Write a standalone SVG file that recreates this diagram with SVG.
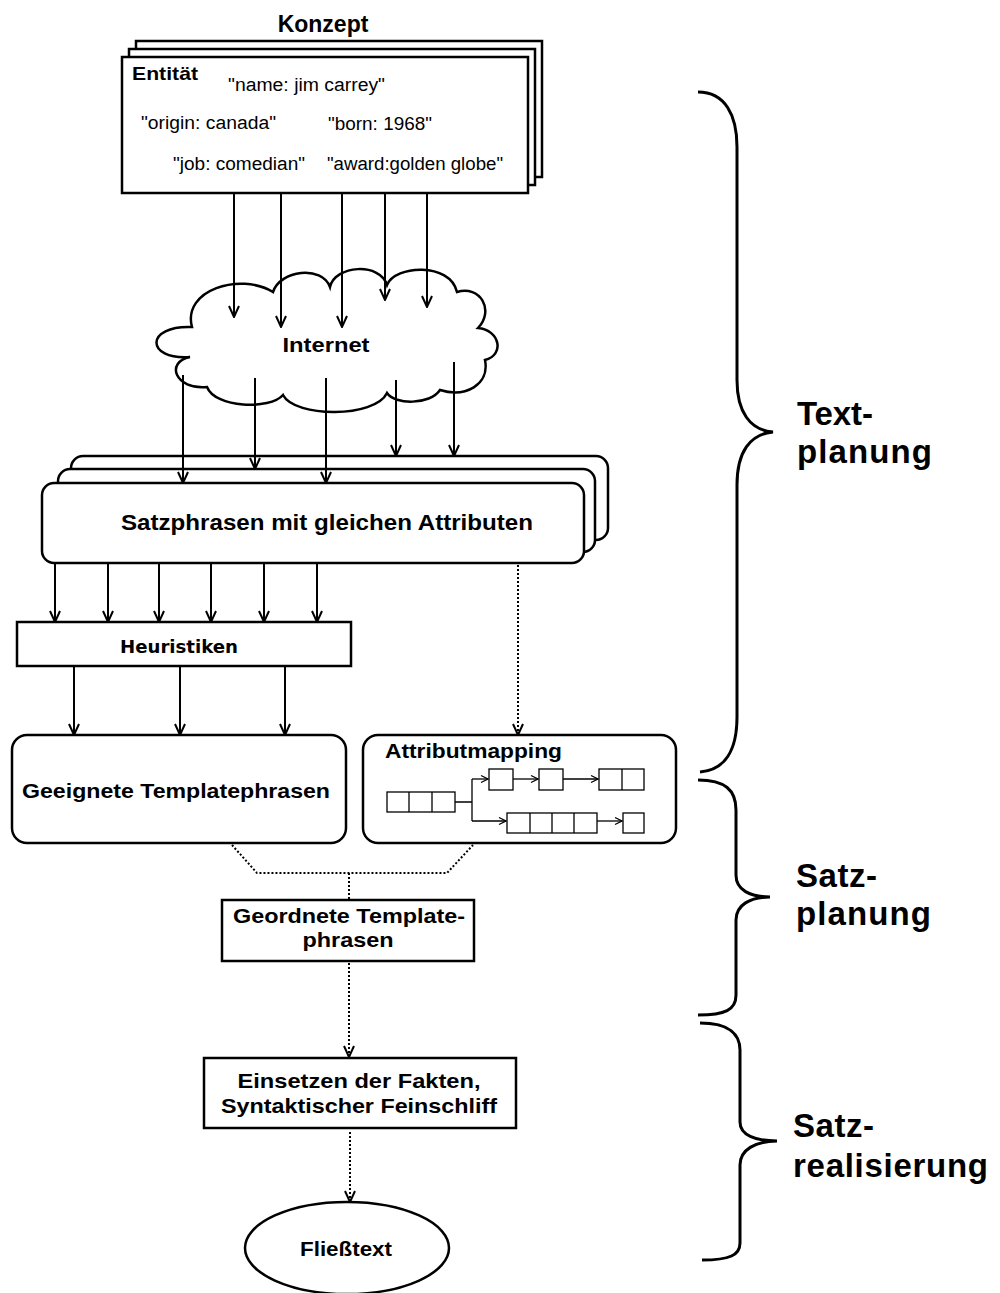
<svg xmlns="http://www.w3.org/2000/svg" width="1000" height="1293" viewBox="0 0 1000 1293">
<style>
.b{fill:#fff;stroke:#000;stroke-width:2.5}
.t{font-family:"Liberation Sans",Arial,sans-serif;fill:#000}
.bd{font-weight:bold}
.ln{fill:none;stroke:#000;stroke-width:2}
.dt{fill:none;stroke:#000;stroke-width:2;stroke-dasharray:2 2}
.br{fill:none;stroke:#000;stroke-width:3}
.sm{fill:#fff;stroke:#000;stroke-width:1.3}
.sl{fill:none;stroke:#000;stroke-width:1.3}
</style>
<defs>
<marker id="ah" markerWidth="14" markerHeight="14" viewBox="-13 -7 14 14" refX="0" refY="0" orient="auto" markerUnits="userSpaceOnUse">
<path d="M -11 -5 L 0 0 L -11 5" fill="none" stroke="#000" stroke-width="2"/>
</marker>
<marker id="sa" markerWidth="10" markerHeight="10" viewBox="-9 -5 10 10" refX="0" refY="0" orient="auto" markerUnits="userSpaceOnUse">
<path d="M -7 -3.5 L 0 0 L -7 3.5" fill="none" stroke="#000" stroke-width="1.3"/>
</marker>
</defs>
<rect width="1000" height="1293" fill="#fff"/>

<g id="konzept">
<text class="t bd" x="323" y="32" font-size="23" text-anchor="middle">Konzept</text>
<rect class="b" x="136" y="41" width="406" height="136"/>
<rect class="b" x="129" y="49" width="406" height="136"/>
<rect class="b" x="122" y="57" width="406" height="136"/>
<text class="t bd" x="132" y="80" font-size="19" textLength="66" lengthAdjust="spacingAndGlyphs">Entität</text>
<text class="t" x="228" y="91" font-size="18" textLength="157" lengthAdjust="spacingAndGlyphs">"name: jim carrey"</text>
<text class="t" x="141" y="129" font-size="18" textLength="135" lengthAdjust="spacingAndGlyphs">"origin: canada"</text>
<text class="t" x="328" y="130" font-size="18" textLength="104" lengthAdjust="spacingAndGlyphs">"born: 1968"</text>
<text class="t" x="173" y="170" font-size="18" textLength="132" lengthAdjust="spacingAndGlyphs">"job: comedian"</text>
<text class="t" x="327" y="170" font-size="18" textLength="176" lengthAdjust="spacingAndGlyphs">"award:golden globe"</text>
</g>

<g id="internet">
<path class="b" d="M 192 327 C 182 290 240 272 273 292 C 280 270 322 265 330 287 C 335 265 380 262 387 285 C 395 265 450 262 457 292 C 480 285 495 310 478 328 C 500 330 505 355 485 360 C 490 385 465 398 440 390 C 430 405 395 405 387 393 C 375 418 295 418 283 395 C 270 410 215 408 207 387 C 175 390 165 362 190 357 C 145 360 145 325 192 327 Z"/>
<text class="t bd" x="326" y="352" font-size="20" text-anchor="middle" textLength="87" lengthAdjust="spacingAndGlyphs">Internet</text>
</g>

<g id="satzphrasen">
<rect class="b" x="71" y="456" width="537" height="84" rx="12"/>
<rect class="b" x="58" y="469" width="537" height="83" rx="12"/>
<rect class="b" x="42" y="483" width="542" height="80" rx="12"/>
<text class="t bd" x="327" y="530" font-size="22" text-anchor="middle" textLength="412" lengthAdjust="spacingAndGlyphs">Satzphrasen mit gleichen Attributen</text>
</g>

<g id="heuristiken">
<rect class="b" x="17" y="622" width="334" height="44"/>
<text x="179" y="653" font-family="DejaVu Sans" font-weight="bold" font-size="18" text-anchor="middle" textLength="118" lengthAdjust="spacingAndGlyphs">Heuristiken</text>
</g>

<g id="geeignete">
<rect class="b" x="12" y="735" width="334" height="108" rx="15"/>
<text class="t bd" x="176" y="798" font-size="21" text-anchor="middle" textLength="308" lengthAdjust="spacingAndGlyphs">Geeignete Templatephrasen</text>
</g>

<g id="attributmapping">
<rect class="b" x="363" y="735" width="313" height="108" rx="15"/>
<text class="t bd" x="385" y="758" font-size="20" textLength="177" lengthAdjust="spacingAndGlyphs">Attributmapping</text>
<rect class="sm" x="387" y="792" width="68" height="20"/>
<path class="sl" d="M 409 792 V 812 M 432 792 V 812"/>
<rect class="sm" x="489" y="769" width="24" height="21"/>
<rect class="sm" x="539" y="769" width="24" height="21"/>
<rect class="sm" x="599" y="769" width="45" height="21"/>
<path class="sl" d="M 622 769 V 790"/>
<rect class="sm" x="507" y="813" width="90" height="20"/>
<path class="sl" d="M 530 813 V 833 M 552 813 V 833 M 574 813 V 833"/>
<rect class="sm" x="623" y="813" width="21" height="20"/>
<path class="sl" d="M 455 802 H 472 M 472 779 V 821"/>
<path class="sl" d="M 472 779 H 488" marker-end="url(#sa)"/>
<path class="sl" d="M 513 779 H 538" marker-end="url(#sa)"/>
<path class="sl" d="M 563 779 H 598" marker-end="url(#sa)"/>
<path class="sl" d="M 472 821 H 506" marker-end="url(#sa)"/>
<path class="sl" d="M 597 821 H 622" marker-end="url(#sa)"/>
</g>

<g id="geordnete">
<rect class="b" x="222" y="900" width="252" height="61"/>
<text class="t bd" x="349" y="923" font-size="21" text-anchor="middle" textLength="232" lengthAdjust="spacingAndGlyphs">Geordnete Template-</text>
<text class="t bd" x="348" y="947" font-size="21" text-anchor="middle" textLength="91" lengthAdjust="spacingAndGlyphs">phrasen</text>
</g>

<g id="einsetzen">
<rect class="b" x="204" y="1058" width="312" height="70"/>
<text class="t bd" x="359" y="1088" font-size="21" text-anchor="middle" textLength="243" lengthAdjust="spacingAndGlyphs">Einsetzen der Fakten,</text>
<text class="t bd" x="359" y="1113" font-size="21" text-anchor="middle" textLength="276" lengthAdjust="spacingAndGlyphs">Syntaktischer Feinschliff</text>
</g>

<g id="fliesstext">
<ellipse class="b" cx="347" cy="1248" rx="102" ry="46"/>
<text class="t bd" x="346" y="1256" font-size="20" text-anchor="middle" textLength="92" lengthAdjust="spacingAndGlyphs">Fließtext</text>
</g>

<g id="connectors">
<path class="ln" d="M 234 193 V 317" marker-end="url(#ah)"/>
<path class="ln" d="M 281 193 V 327" marker-end="url(#ah)"/>
<path class="ln" d="M 342 193 V 327" marker-end="url(#ah)"/>
<path class="ln" d="M 385 193 V 300" marker-end="url(#ah)"/>
<path class="ln" d="M 427 193 V 307" marker-end="url(#ah)"/>
<path class="ln" d="M 183 375 V 483" marker-end="url(#ah)"/>
<path class="ln" d="M 255 378 V 469" marker-end="url(#ah)"/>
<path class="ln" d="M 326 378 V 483" marker-end="url(#ah)"/>
<path class="ln" d="M 396 380 V 456" marker-end="url(#ah)"/>
<path class="ln" d="M 454 362 V 456" marker-end="url(#ah)"/>
<path class="ln" d="M 55 563 V 622" marker-end="url(#ah)"/>
<path class="ln" d="M 108 563 V 622" marker-end="url(#ah)"/>
<path class="ln" d="M 159 563 V 622" marker-end="url(#ah)"/>
<path class="ln" d="M 211 563 V 622" marker-end="url(#ah)"/>
<path class="ln" d="M 264 563 V 622" marker-end="url(#ah)"/>
<path class="ln" d="M 317 563 V 622" marker-end="url(#ah)"/>
<path class="ln" d="M 74 666 V 735" marker-end="url(#ah)"/>
<path class="ln" d="M 180 666 V 735" marker-end="url(#ah)"/>
<path class="ln" d="M 285 666 V 735" marker-end="url(#ah)"/>
<path class="dt" d="M 518 565 V 735" marker-end="url(#ah)"/>
<path class="dt" d="M 232 845 L 257 873 H 447 L 473 845"/>
<path class="dt" d="M 349 873 V 900"/>
<path class="dt" d="M 349 963 V 1057" marker-end="url(#ah)"/>
<path class="dt" d="M 350 1132 V 1202" marker-end="url(#ah)"/>
</g>

<g id="braces">
<path class="br" stroke-width="4" d="M 698 92 C 725 92 737 115 737 147 L 737 380 C 737 412 750 430 773 432 C 750 434 737 452 737 485 L 737 717 C 737 750 725 770 700 772"/>
<path class="br" d="M 698 780 C 725 780 736 790 736 810 L 736 875 C 736 890 750 897 770 897 C 750 897 736 905 736 920 L 736 995 C 736 1010 725 1015 698 1015"/>
<path class="br" d="M 700 1023 C 730 1023 740 1035 740 1050 L 740 1122 C 740 1135 755 1141 777 1141 C 755 1141 740 1150 740 1165 L 740 1243 C 740 1255 730 1260 702 1260"/>
<text class="t bd" x="797" y="425" font-size="33" textLength="76">Text-</text>
<text class="t bd" x="797" y="463" font-size="33" textLength="135">planung</text>
<text class="t bd" x="796" y="887" font-size="33" textLength="81">Satz-</text>
<text class="t bd" x="796" y="925" font-size="33" textLength="135">planung</text>
<text class="t bd" x="793" y="1137" font-size="33" textLength="81">Satz-</text>
<text class="t bd" x="793" y="1177" font-size="33" textLength="195">realisierung</text>
</g>
</svg>
